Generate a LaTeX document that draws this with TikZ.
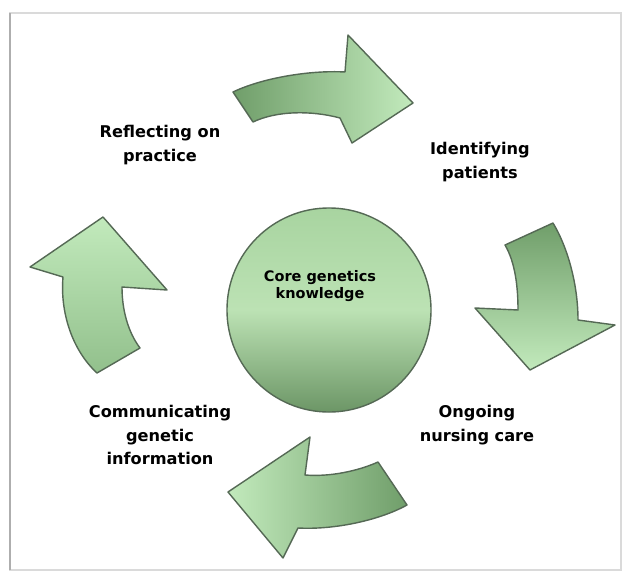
\documentclass[tikz,border=0pt]{standalone}
\usepackage{fontspec}
\setmainfont{DejaVu Sans}
\usetikzlibrary{positioning}

\definecolor{leafdark}{RGB}{112,158,106}
\definecolor{leafmid}{RGB}{146,192,140}
\definecolor{leaflight}{RGB}{194,234,188}
\definecolor{hubtop}{RGB}{168,212,160}
\definecolor{hubmid}{RGB}{188,226,180}
\definecolor{hubbottom}{RGB}{108,150,102}
\definecolor{edgegreen}{RGB}{85,105,85}
\definecolor{framegray}{RGB}{218,218,218}

\begin{document}
\begin{tikzpicture}[
    x=0.025cm, y=-0.025cm,
    blockarrow/.style={draw=edgegreen, line width=1pt, line join=round},
    hub/.style={circle, draw=edgegreen, line width=1pt, minimum size=5.1cm,
                inner sep=0pt, top color=hubtop, bottom color=hubbottom,
                middle color=hubmid},
    steplabel/.style={align=center, font=\bfseries\fontsize{11.5}{16.7}\selectfont},
    hubtext/.style={align=center, font=\bfseries\fontsize{10.3}{11.5}\selectfont}
]
\useasboundingbox (0,0) rectangle (623,572);

% frame
\draw[framegray, line width=0.8pt] (10,13) rectangle (621,570);
\draw[framegray!80!black, line width=1pt] (10,13) -- (10,570);

% cycle arrows
\draw[blockarrow, left color=leafdark, right color=leaflight]
  (233,92) .. controls (262,78) and (310,70) .. (345,72) -- (348,35) -- (413,103)
  -- (352,143) -- (340,118) .. controls (310,110) and (276,111) .. (253,122) -- cycle;
\draw[blockarrow, top color=leafdark, bottom color=leaflight]
  (553,223) .. controls (568,248) and (578,285) .. (578,320) -- (615,325) -- (530,370)
  -- (475,308) -- (518,310) .. controls (518,286) and (515,262) .. (505,245) -- cycle;
\draw[blockarrow, right color=leafdark, left color=leaflight]
  (407,505) .. controls (380,520) and (335,530) .. (298,528) -- (283,558) -- (228,492)
  -- (310,437) -- (305,475) .. controls (330,477) and (358,471) .. (378,462) -- cycle;
\draw[blockarrow, bottom color=leafmid, top color=leaflight]
  (97,373) .. controls (72,350) and (60,312) .. (63,277) -- (30,267) -- (103,217)
  -- (167,290) -- (122,287) .. controls (122,310) and (128,332) .. (140,348) -- cycle;

% centre
\node[hub] (core) at (329,310) {};
\node[hubtext] (coretext) at (320,286) {Core genetics\\knowledge};

% stages
\node[steplabel] (reflect) at (160,145) {Reflecting on\\practice};
\node[steplabel] (identify) at (480,162) {Identifying\\patients};
\node[steplabel] (ongoing) at (477,425) {Ongoing\\nursing care};
\node[steplabel] (communicate) at (160,435) {Communicating\\genetic\\information};
\end{tikzpicture}
\end{document}
